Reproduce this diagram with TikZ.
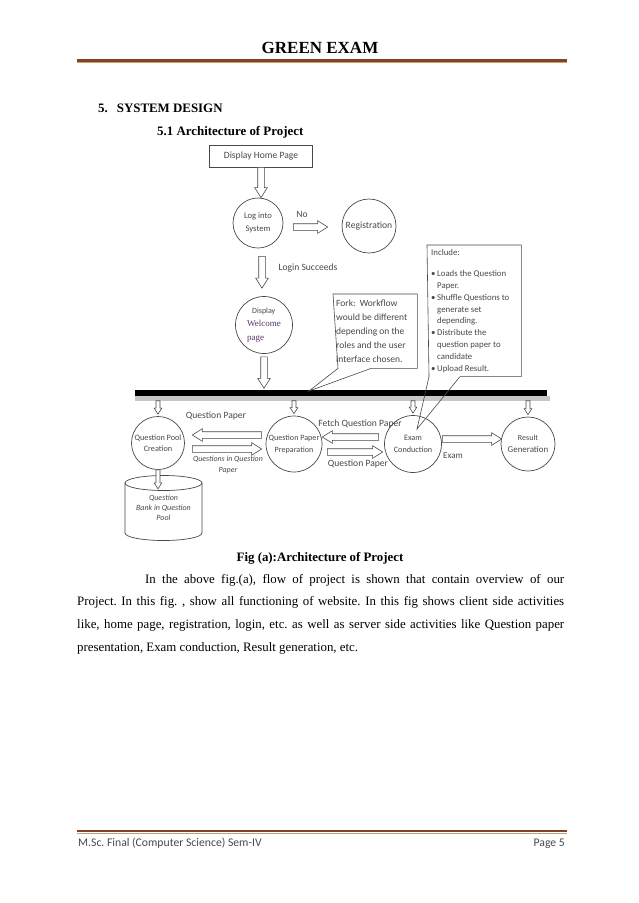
\documentclass[tikz,border=0pt]{standalone}
\usepackage{xcolor}
\usepackage{fontspec}
\setmainfont{Liberation Serif}
\newfontfamily\calibri{Carlito}
\usepackage{tikz}
\usetikzlibrary{calc,positioning}
\frenchspacing

\definecolor{inkgray}{RGB}{72,72,72}
\definecolor{rulebrown}{RGB}{128,68,34}
\definecolor{rulelight}{RGB}{200,156,118}
\definecolor{welcomepurple}{RGB}{84,52,100}

\tikzset{
  stage/.style={circle,draw=inkgray,line width=0.7pt,inner sep=0pt,align=center,text=inkgray,
    font=\calibri\fontsize{8.2}{11.5}\selectfont},
  hollow/.style={draw=inkgray,line width=0.6pt,fill=white,line join=miter},
  lbl/.style={text=inkgray,inner sep=0pt,font=\calibri\fontsize{9.6}{11}\selectfont},
  note/.style={text=inkgray,anchor=north west,align=flush left},
  callout/.style={draw=inkgray,line width=0.6pt},
  brownrule/.style={rulebrown,line width=2.6pt}
}

\newcommand{\hollowarrow}[3][1]{%
  \pgfmathsetlengthmacro\hshaft{#1*3.3pt}%
  \pgfmathsetlengthmacro\hhead{#1*6.3pt}%
  \pgfmathsetlengthmacro\hlen{#1*10pt}%
  \coordinate (ha) at (#2);
  \coordinate (hb) at (#3);
  \coordinate (hc) at ($(hb)!\hlen!(ha)$);
  \draw[hollow] ($(ha)!\hshaft!90:(hb)$) -- ($(hc)!\hshaft!90:(hb)$) -- ($(hc)!\hhead!90:(hb)$) -- (hb)
    -- ($(hc)!\hhead!-90:(hb)$) -- ($(hc)!\hshaft!-90:(hb)$) -- ($(ha)!\hshaft!-90:(hb)$) -- cycle;}
\newcommand{\bul}{\makebox[6pt][l]{\textbullet}}
\newcommand{\hang}{\hspace*{6pt}}

\begin{document}
\begin{tikzpicture}[x=1pt,y=-1pt]
  \useasboundingbox (0,0) rectangle (638,903);

  \node[font=\bfseries\fontsize{17}{20}\selectfont] (title) at (320,48) {GREEN EXAM};
  \draw[brownrule] (77,60.5) -- (567,60.5);
  \draw[rulelight,line width=0.8pt] (77,62.6) -- (567,62.6);
  \node[anchor=base west,inner sep=0pt,font=\bfseries\fontsize{12.9}{15}\selectfont] (sec) at (98,112) {5.\hspace{9pt}SYSTEM DESIGN};
  \node[anchor=base west,inner sep=0pt,font=\bfseries\fontsize{12.9}{15}\selectfont] (subsec) at (157,135) {5.1 Architecture of Project};

  \node[draw=inkgray,line width=0.6pt,minimum width=103pt,minimum height=22pt,inner sep=0pt,text=inkgray,
    font=\calibri\fontsize{9.6}{11}\selectfont] (home) at (261,156) {Display Home Page};
  \node[stage,minimum size=50pt,font=\calibri\fontsize{8.6}{13}\selectfont] (login) at (258,223) {Log into\\System};
  \node[stage,minimum size=54pt,font=\calibri\fontsize{9.6}{11}\selectfont] (reg) at (369,226) {Registration};
  \node[stage,minimum size=57pt,align=flush left,font=\fontsize{9}{13.5}\selectfont] (welcome) at (264,325)
    {{\calibri\fontsize{8}{13.5}\selectfont\hspace*{5pt}Display}\\{\color{welcomepurple}Welcome}\\{\color{welcomepurple}page}};

  \hollowarrow{home.south}{home.south |- login.north}
  \hollowarrow{$(login.east)+(10,4)$}{$(reg.west)+(-14,1)$}
  \hollowarrow{$(login.south)+(4,8)$}{$(welcome.north)+(-2,-8)$}
  \node[lbl] (no) at (302,214) {No};
  \node[lbl] (succeeds) at (308,268) {Login Succeeds};

  \node[fill=black,minimum width=412pt,minimum height=6pt,inner sep=0pt] (bar) at (341,393) {};
  \fill[black!22] (bar.south west) rectangle ($(bar.south east)+(3,4.5)$);
  \hollowarrow{$(welcome.south)+(0,3)$}{$(welcome.south |- bar.north)+(0,-1.5)$}

  \node[note,inner xsep=3pt,inner ysep=4.5pt,text width=78pt,minimum height=74pt,
    font=\calibri\fontsize{9.5}{14}\selectfont] (fork) at (333,294)
    {Fork:\ \ Workflow\\would be different\\depending on the\\roles and the user\\interface chosen.};
  \coordinate (forktip) at (309,391);
  \draw[callout] (fork.north west) -- (fork.north east) -- (fork.south east) -- ($(fork.south west)+(38,0)$)
    -- (forktip) -- ($(fork.south west)+(5,0)$) -- cycle;

  \node[note,inner xsep=4pt,inner ysep=4pt,text width=86pt,
    font=\calibri\fontsize{8.8}{11.8}\selectfont] (include) at (427,245)
    {Include:\\[9.5pt]
     \bul Loads the Question\\ \hang Paper.\\
     \bul Shuffle Questions to\\ \hang generate set\\ \hang depending.\\
     \bul Distribute the\\ \hang question paper to\\ \hang candidate\\
     \bul Upload Result.};
  \coordinate (inctip) at (417,429);
  \draw[callout] (include.north west) -- (include.north east) -- (include.south east) -- ($(include.south west)+(33,0)$)
    -- (inctip) -- ($(include.south west)+(2,0)$) -- cycle;

  \node[stage,minimum size=53pt] (pool) at (158,443) {Question Pool\\Creation};
  \node[stage,minimum size=56pt,font=\calibri\fontsize{8.1}{12}\selectfont] (prep) at (294,444) {Question Paper\\Preparation};
  \node[stage,minimum size=57pt] (exam) at (413,444) {Exam\\Conduction};
  \node[stage,minimum size=54pt,font=\calibri\fontsize{8}{12}\selectfont] (result) at (528,444)
    {Result\\{\fontsize{8.9}{12}\selectfont Generation}};

  \foreach \n in {pool,prep,exam,result}
    \hollowarrow[0.6]{$(\n.north |- bar.south)+(0,4.5)$}{$(\n.north)+(0,-2)$};

  \hollowarrow{$(prep.west)+(-4,-9)$}{$(pool.east)+(7.5,-8)$}
  \hollowarrow{$(pool.east)+(7.5,6)$}{$(prep.west)+(-4,5)$}
  \hollowarrow{$(exam.west)+(-5.5,-7)$}{$(prep.east)+(0,-7)$}
  \hollowarrow{$(prep.east)+(5,8)$}{$(exam.west)+(-1.5,8)$}
  \hollowarrow{$(exam.east)+(0.5,-5)$}{$(result.west)+(1,-5)$}

  \node[lbl] (poolpaper) at (216,416) {Question Paper};
  \node[lbl,align=center,font=\calibri\itshape\fontsize{7.9}{10.5}\selectfont] (inpaper) at (228,465) {Questions in Question\\Paper};
  \node[lbl] (fetch) at (360,424) {Fetch Question Paper};
  \node[lbl] (exampaper) at (358,464) {Question Paper};
  \node[lbl,font=\calibri\fontsize{9}{11}\selectfont] (examlbl) at (453,456) {Exam};

  \node[lbl,align=center,font=\calibri\itshape\fontsize{8}{10}\selectfont] (bank) at (163.5,508) {Question\\Bank in Question\\Pool};
  \draw[inkgray,line width=0.7pt] (125,483) -- (125,533) arc[start angle=180,end angle=0,x radius=38.5,y radius=7.5] -- (202,483);
  \draw[inkgray,line width=0.7pt] (163.5,483) ellipse[x radius=38.5,y radius=7.5];
  \hollowarrow[0.6]{pool.south}{$(pool.south)+(0,19)$}

  \node[font=\bfseries\fontsize{12.85}{15}\selectfont,anchor=base] (caption) at (320,561) {Fig (a):Architecture of Project};
  \node[anchor=north west,inner sep=0pt,text width=487pt,align=justify,font=\fontsize{12.85}{22.7}\selectfont] (para) at (77,574)
    {\hspace*{68pt}In the above fig.(a), flow of project is shown that contain overview of our\linebreak
     Project. In this fig. , show all functioning of website. In this fig shows client side activities\linebreak
     like, home page, registration, login, etc. as well as server side activities like Question paper\linebreak
     presentation, Exam conduction, Result generation, etc.};

  \draw[brownrule] (77,831) -- (567,831);
  \draw[rulelight,line width=0.8pt] (77,833.1) -- (567,833.1);
  \node[anchor=base west,inner sep=0pt,text=inkgray,font=\calibri\fontsize{11.7}{14}\selectfont] (footleft) at (78,846) {M.Sc. Final (Computer Science) Sem-IV};
  \node[anchor=base east,inner sep=0pt,text=inkgray,font=\calibri\fontsize{11.7}{14}\selectfont] (footright) at (565,846) {Page 5};
\end{tikzpicture}
\end{document}
